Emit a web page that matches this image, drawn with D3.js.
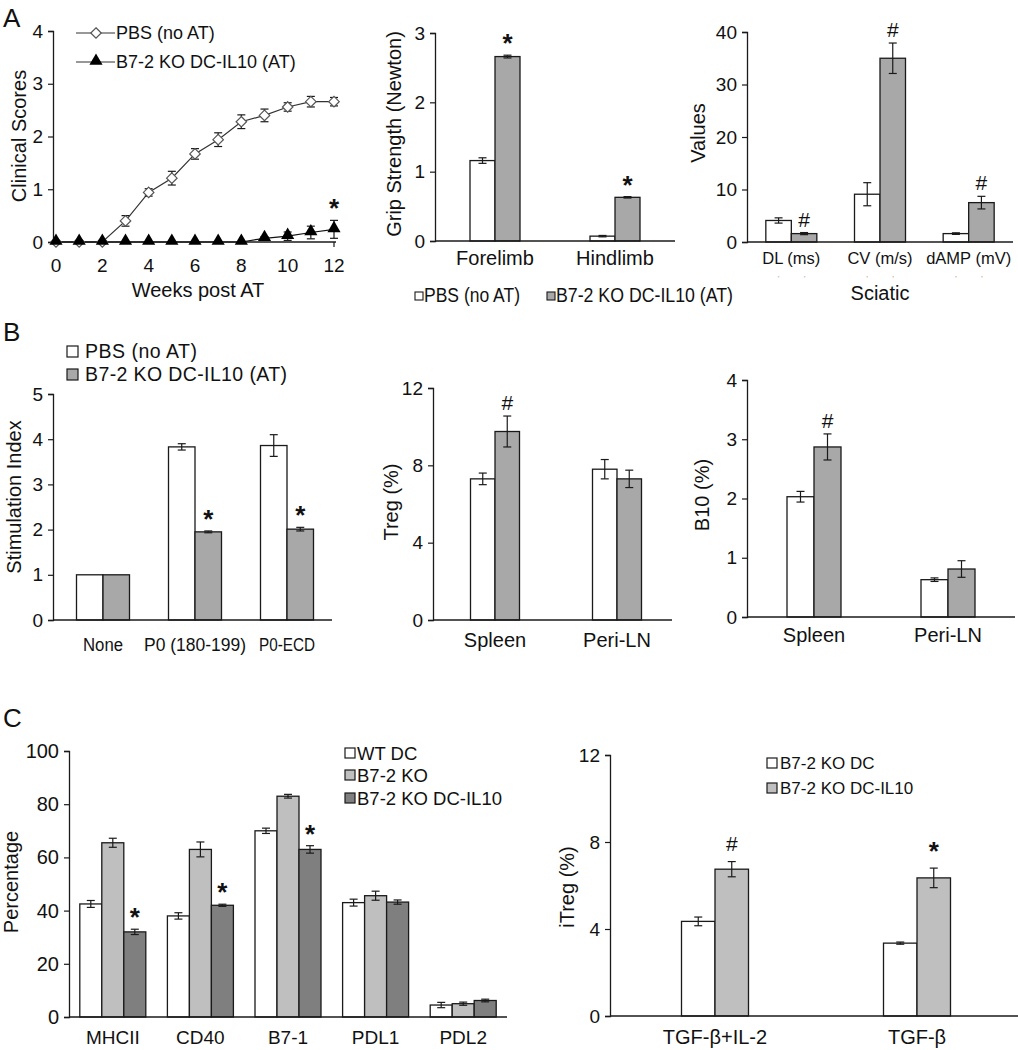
<!DOCTYPE html>
<html>
<head>
<meta charset="utf-8">
<script src="https://cdn.jsdelivr.net/npm/d3@7/dist/d3.min.js"></script>
<style>
  html, body { margin: 0; padding: 0; background: #fff; }
  svg text { font-family: "Liberation Sans", Arial, sans-serif; fill: #111; }
</style>
</head>
<body>
<svg id="fig" width="1018" height="1050"></svg>
<script>
// ---------- DATA ----------
// A1: clinical scores
const weeks = [0,1,2,3,4,5,6,7,8,9,10,11,12];
const weekTicks = [0,2,4,6,8,10,12];
const pbsScores   = [0,0,0,0.40,0.94,1.21,1.67,1.94,2.28,2.40,2.56,2.66,2.66];
const pbsScoreErr = [0,0,0,0.10,0.07,0.13,0.10,0.13,0.13,0.12,0.08,0.10,0.08];
const dcScores    = [0,0,0,0,0,0,0,0,0,0.07,0.11,0.18,0.24];
const dcScoreErr  = [0,0,0,0,0,0,0,0,0,0.03,0.08,0.12,0.17];
const scoreTicks = [0,1,2,3,4];

// A2: grip strength
const gripCats = ["Forelimb","Hindlimb"];
const gripPBS = [1.16,0.07], gripPBSErr = [0.04,0.01];
const gripDC  = [2.66,0.63], gripDCErr  = [0.02,0.01];
const gripSig = ["*","*"];
const gripTicks = [0,1,2,3];

// A3: sciatic
const sciCats = ["DL (ms)","CV (m/s)","dAMP (mV)"];
const sciPBS = [4.1,9.1,1.6], sciPBSErr = [0.5,2.2,0.15];
const sciDC  = [1.6,35.0,7.5], sciDCErr = [0.2,2.9,1.2];
const sciSig = ["#","#","#"];
const sciTicks = [0,10,20,30,40];

// B1: stimulation index
const stimCats = ["None","P0 (180-199)","P0-ECD"];
const stimPBS = [1,3.83,3.86], stimPBSErr = [0,0.07,0.24];
const stimDC  = [1,1.95,2.01], stimDCErr  = [0,0.02,0.04];
const stimSig = ["","*","*"];
const stimTicks = [0,1,2,3,4,5];

// B2: Treg
const tissueCats = ["Spleen","Peri-LN"];
const tregPBS = [7.3,7.8], tregPBSErr = [0.3,0.5];
const tregDC  = [9.75,7.3], tregDCErr = [0.8,0.45];
const tregSig = ["#",""];
const tregTicks = [0,4,8,12];

// B3: B10
const b10PBS = [2.03,0.63], b10PBSErr = [0.09,0.03];
const b10DC  = [2.87,0.81], b10DCErr  = [0.22,0.14];
const b10Sig = ["#",""];
const b10Ticks = [0,1,2,3,4];

// C1: surface markers
const markerCats = ["MHCII","CD40","B7-1","PDL1","PDL2"];
const wtDC   = [42.5,38,70,43,4.5],   wtDCErr   = [1.3,1.2,1.0,1.3,1.0];
const koDC   = [65.5,63,83,45.6,5.0], koDCErr   = [1.7,2.8,0.7,1.7,0.6];
const koIL10 = [32,42,63,43.2,6.2],   koIL10Err = [1.0,0.4,1.4,0.8,0.5];
const markerSig = ["*","*","*","",""];
const pctTicks = [0,20,40,60,80,100];

// C2: iTreg
const itregCats = ["TGF-β+IL-2","TGF-β"];
const itregKO   = [4.35,3.35], itregKOErr   = [0.2,0.05];
const itregIL10 = [6.75,6.35], itregIL10Err = [0.35,0.45];
const itregSig = ["#","*"];
const itregTicks = [0,4,8,12];

const legendAB = ["PBS (no AT)","B7-2 KO DC-IL10 (AT)"];
const legendC1 = ["WT DC","B7-2 KO","B7-2 KO DC-IL10"];
const legendC2 = ["B7-2 KO DC","B7-2 KO DC-IL10"];

// ---------- DRAWING ----------
const svg = d3.select("#fig");
const INK = "#1a1a1a";

function yAxisDraw(g, y, x0, ticks, fs) {
  const ax = g.append("g").attr("transform", `translate(${x0},0)`)
    .call(d3.axisLeft(y).tickValues(ticks).tickSize(5).tickPadding(5).tickFormat(d3.format("d")));
  ax.select(".domain").attr("stroke", INK).attr("stroke-width", 1.3);
  ax.selectAll(".tick line").attr("stroke", INK).attr("stroke-width", 1.2);
  ax.selectAll(".tick text").style("font-size", fs + "px").attr("fill", INK)
    .style("font-family", '"Liberation Sans", Arial, sans-serif');
}

function xLine(g, x0, x1, yb) {
  g.append("line").attr("x1", x0).attr("x2", x1).attr("y1", yb).attr("y2", yb)
    .attr("stroke", INK).attr("stroke-width", 1.3);
}

function yTitle(g, text, cx, cy, fs) {
  g.append("text").attr("transform", `translate(${cx},${cy}) rotate(-90)`)
    .attr("text-anchor", "middle").attr("dy", "0.35em").style("font-size", fs + "px").text(text);
}

function errBar(g, x, y0, y1, cap) {
  g.append("line").attr("x1", x).attr("x2", x).attr("y1", y0).attr("y2", y1).attr("stroke", INK).attr("stroke-width", 1.2);
  [y0, y1].forEach(yy => g.append("line").attr("x1", x - cap/2).attr("x2", x + cap/2)
    .attr("y1", yy).attr("y2", yy).attr("stroke", INK).attr("stroke-width", 1.2));
}

function sigMark(g, x, topY, sg, extra) {
  const star = sg === "*";
  g.append("text").attr("x", x).attr("y", topY - (star ? 3 : 6) - (extra || 0)).attr("text-anchor", "middle")
    .style("font-size", (star ? 26 : 21) + "px").style("font-weight", star ? "bold" : "normal").text(sg);
}

// generic grouped bar panel
function barPanel(opt) {
  const g = svg.append("g");
  const y = d3.scaleLinear().domain(opt.yDomain).range([opt.yBottom, opt.yTop]);
  const x = d3.scaleBand().domain(opt.cats).range(opt.xRange).paddingInner(0).paddingOuter(0);
  const n = opt.series.length;
  const bw = opt.barW;
  opt.cats.forEach((c, i) => {
    const cx = x(c) + x.bandwidth()/2;
    const start = cx - n*bw/2;
    let topMost = Infinity, sigX = cx;
    opt.series.forEach((s, k) => {
      const v = s.values[i], e = s.err[i];
      const bx = start + k*bw;
      g.append("rect").attr("x", bx).attr("y", y(v)).attr("width", bw).attr("height", y(0) - y(v))
        .attr("fill", s.color).attr("stroke", INK).attr("stroke-width", 1.3);
      if (e > 0) errBar(g, bx + bw/2, y(v - e), y(v + e), opt.cap);
      if (k === opt.sigSeries) { topMost = y(v + e); sigX = bx + bw/2; }
    });
    if (opt.sig[i]) sigMark(g, sigX, topMost, opt.sig[i], opt.sigExtra);
  });
  xLine(g, opt.axisX, opt.xEnd, y(0));
  yAxisDraw(g, y, opt.axisX, opt.ticks, opt.tickFs);
  opt.cats.forEach((c, i) => {
    const t = g.append("text").attr("x", x(c) + x.bandwidth()/2 + (opt.labelShift || 0)).attr("y", opt.labelY)
      .attr("text-anchor", "middle").style("font-size", opt.labelFs + "px").text(c);
    if (opt.labelLen) t.attr("textLength", opt.labelLen[i]).attr("lengthAdjust", "spacingAndGlyphs");
  });
  yTitle(g, opt.title, opt.titleX, opt.titleY, opt.titleFs);
  return {g, x, y};
}

const WHITE = "#ffffff", GRAY = "#a8a8a8", LGRAY = "#bfbfbf", DGRAY = "#7f7f7f";

// ---- Panel letters ----
[["A", 3, 27], ["B", 3, 341], ["C", 3, 727]].forEach(([t, x, yy]) =>
  svg.append("text").attr("x", x).attr("y", yy).style("font-size", "26px").text(t));

// ---- A1 line chart ----
(function() {
  const g = svg.append("g");
  const x = d3.scaleLinear().domain([0,12]).range([56, 334]);
  const y = d3.scaleLinear().domain([0,4]).range([242, 31]);
  xLine(g, 53, 336, y(0));
  g.append("line").attr("x1", x(12)).attr("x2", x(12)).attr("y1", y(0)).attr("y2", y(0) + 5).attr("stroke", INK).attr("stroke-width", 1.2);
  yAxisDraw(g, y, 53, scoreTicks, 19);
  weekTicks.forEach(w => g.append("text").attr("x", x(w)).attr("y", 272).attr("text-anchor", "middle")
    .style("font-size", "19px").text(w));
  const line = d3.line().x((d, i) => x(weeks[i])).y(d => y(d));
  g.append("path").attr("d", line(pbsScores)).attr("fill", "none").attr("stroke", "#333").attr("stroke-width", 1.2);
  g.append("path").attr("d", line(dcScores)).attr("fill", "none").attr("stroke", "#111").attr("stroke-width", 1.2);
  weeks.forEach((w, i) => {
    if (pbsScoreErr[i] > 0) errBar(g, x(w), y(pbsScores[i] - pbsScoreErr[i]), y(pbsScores[i] + pbsScoreErr[i]), 8);
    if (dcScoreErr[i] > 0) errBar(g, x(w), y(dcScores[i] - dcScoreErr[i]), y(dcScores[i] + dcScoreErr[i]), 8);
  });
  const diamond = d3.symbol().type(d3.symbolDiamond2).size(70);
  const tri = d3.symbol().type(d3.symbolTriangle).size(75);
  weeks.forEach((w, i) => {
    g.append("path").attr("d", diamond()).attr("transform", `translate(${x(w)},${y(pbsScores[i])})`)
      .attr("fill", "#fff").attr("stroke", "#555").attr("stroke-width", 1.2);
  });
  weeks.forEach((w, i) => {
    g.append("path").attr("d", tri()).attr("transform", `translate(${x(w)},${y(dcScores[i]) - 1})`).attr("fill", "#000");
  });
  sigMark(g, x(12), y(dcScores[12] + dcScoreErr[12]), "*", 0);
  g.append("text").attr("x", 198).attr("y", 297).attr("text-anchor", "middle").style("font-size", "20px").text("Weeks post AT");
  yTitle(g, "Clinical Scores", 19, 136, 20);
  [[33, "pbs"], [62, "dc"]].forEach(([ly, k], i) => {
    g.append("line").attr("x1", 76).attr("x2", 115).attr("y1", ly).attr("y2", ly).attr("stroke", "#333").attr("stroke-width", 1.2);
    if (k === "pbs") g.append("path").attr("d", diamond()).attr("transform", `translate(96,${ly})`)
      .attr("fill", "#fff").attr("stroke", "#555").attr("stroke-width", 1.2);
    else g.append("path").attr("d", tri()).attr("transform", `translate(96,${ly - 1})`).attr("fill", "#000");
    g.append("text").attr("x", 116).attr("y", ly + 6).style("font-size", "18px").text(legendAB[i]);
  });
})();

// ---- A2 grip strength ----
barPanel({
  cats: gripCats, xRange: [435, 675], axisX: 435, xEnd: 675,
  yDomain: [0,3], yBottom: 241, yTop: 33, ticks: gripTicks, tickFs: 19,
  barW: 25, cap: 8, sigSeries: 1, sig: gripSig,
  series: [{values: gripPBS, err: gripPBSErr, color: WHITE}, {values: gripDC, err: gripDCErr, color: GRAY}],
  labelY: 265, labelFs: 20, title: "Grip Strength (Newton)", titleX: 394, titleY: 134, titleFs: 20
});
(function() {
  const g = svg.append("g");
  [[415, 424, 96, WHITE], [547, 556, 177, GRAY]].forEach(([sx, tx, tl, col], i) => {
    g.append("rect").attr("x", sx).attr("y", 292).attr("width", 8).attr("height", 8).attr("fill", col).attr("stroke", INK).attr("stroke-width", 1.1);
    g.append("text").attr("x", tx).attr("y", 302).style("font-size", "20.5px")
      .attr("textLength", tl).attr("lengthAdjust", "spacingAndGlyphs").text(legendAB[i]);
  });
})();

// ---- A3 sciatic ----
const a3 = barPanel({
  cats: sciCats, xRange: [747, 1013], axisX: 747, xEnd: 1013,
  yDomain: [0,40], yBottom: 242, yTop: 32, ticks: sciTicks, tickFs: 19,
  barW: 25.5, cap: 8, sigSeries: 1, sig: sciSig,
  series: [{values: sciPBS, err: sciPBSErr, color: WHITE}, {values: sciDC, err: sciDCErr, color: GRAY}],
  labelY: 264, labelFs: 16.5, labelShift: 0, title: "Values", titleX: 698, titleY: 133, titleFs: 20
});
svg.append("text").attr("x", 880).attr("y", 300).attr("text-anchor", "middle").style("font-size", "20px").text("Sciatic");
sciCats.forEach(c => {
  const cx = a3.x(c) + a3.x.bandwidth()/2;
  [-13, 13].forEach(dx => svg.append("rect").attr("x", cx + dx - 0.5).attr("y", 276).attr("width", 1.5).attr("height", 1.5).attr("fill", "#d9c9b0"));
});

// ---- B1 stimulation ----
barPanel({
  cats: stimCats, xRange: [57, 333], axisX: 53, xEnd: 332,
  yDomain: [0,5], yBottom: 620, yTop: 394, ticks: stimTicks, tickFs: 19,
  barW: 26.5, cap: 8, sigSeries: 1, sig: stimSig,
  series: [{values: stimPBS, err: stimPBSErr, color: WHITE}, {values: stimDC, err: stimDCErr, color: GRAY}],
  labelY: 651, labelFs: 17.5, labelLen: [40, 102, 56], title: "Stimulation Index", titleX: 14, titleY: 497, titleFs: 20
});
(function() {
  const g = svg.append("g");
  [[351, WHITE], [374, GRAY]].forEach(([ly, col], i) => {
    g.append("rect").attr("x", 67).attr("y", ly - 5).attr("width", 11).attr("height", 11).attr("fill", col).attr("stroke", INK).attr("stroke-width", 1.2);
    g.append("text").attr("x", 85).attr("y", ly + 7).style("font-size", "19.5px")
      .attr("textLength", i === 0 ? 112 : 202).attr("lengthAdjust", "spacing").text(legendAB[i]);
  });
})();

// ---- B2 Treg ----
barPanel({
  cats: tissueCats, xRange: [434, 678], axisX: 433, xEnd: 672,
  yDomain: [0,12], yBottom: 620, yTop: 388, ticks: tregTicks, tickFs: 19,
  barW: 24.5, cap: 8, sigSeries: 1, sig: tregSig,
  series: [{values: tregPBS, err: tregPBSErr, color: WHITE}, {values: tregDC, err: tregDCErr, color: GRAY}],
  labelY: 647, labelFs: 20, title: "Treg (%)", titleX: 391, titleY: 502, titleFs: 20
});

// ---- B3 B10 ----
barPanel({
  cats: tissueCats, xRange: [747, 1015], axisX: 747, xEnd: 1015,
  yDomain: [0,4], yBottom: 617, yTop: 380, ticks: b10Ticks, tickFs: 19,
  barW: 27, cap: 8, sigSeries: 1, sig: b10Sig,
  series: [{values: b10PBS, err: b10PBSErr, color: WHITE}, {values: b10DC, err: b10DCErr, color: GRAY}],
  labelY: 642, labelFs: 20, title: "B10 (%)", titleX: 702, titleY: 495, titleFs: 20
});

// ---- C1 markers ----
barPanel({
  cats: markerCats, xRange: [69, 507], axisX: 69, xEnd: 507,
  yDomain: [0,100], yBottom: 1017, yTop: 751, ticks: pctTicks, tickFs: 20,
  barW: 22, cap: 8, sigSeries: 2, sig: markerSig,
  series: [{values: wtDC, err: wtDCErr, color: WHITE}, {values: koDC, err: koDCErr, color: LGRAY}, {values: koIL10, err: koIL10Err, color: DGRAY}],
  labelY: 1044, labelFs: 19, title: "Percentage", titleX: 11, titleY: 882, titleFs: 20
});
(function() {
  const g = svg.append("g");
  [[753, WHITE], [775, LGRAY], [798, DGRAY]].forEach(([ly, col], i) => {
    g.append("rect").attr("x", 345).attr("y", ly - 5).attr("width", 10).attr("height", 10).attr("fill", col).attr("stroke", INK).attr("stroke-width", 1.2);
    g.append("text").attr("x", 357).attr("y", ly + 6.5).style("font-size", "18.5px").text(legendC1[i]);
  });
})();

// ---- C2 iTreg ----
barPanel({
  cats: itregCats, xRange: [614, 1018], axisX: 610, xEnd: 1018,
  yDomain: [0,12], yBottom: 1016, yTop: 755, ticks: itregTicks, tickFs: 19,
  barW: 33.5, cap: 8, sigSeries: 1, sig: itregSig, sigExtra: 5,
  series: [{values: itregKO, err: itregKOErr, color: WHITE}, {values: itregIL10, err: itregIL10Err, color: LGRAY}],
  labelY: 1044, labelFs: 20, title: "iTreg (%)", titleX: 567, titleY: 887, titleFs: 20
});
(function() {
  const g = svg.append("g");
  [[763, WHITE], [788, LGRAY]].forEach(([ly, col], i) => {
    g.append("rect").attr("x", 767).attr("y", ly - 5).attr("width", 10).attr("height", 10).attr("fill", col).attr("stroke", INK).attr("stroke-width", 1.2);
    g.append("text").attr("x", 780).attr("y", ly + 6).style("font-size", "17px").text(legendC2[i]);
  });
})();
</script>
</body>
</html>
